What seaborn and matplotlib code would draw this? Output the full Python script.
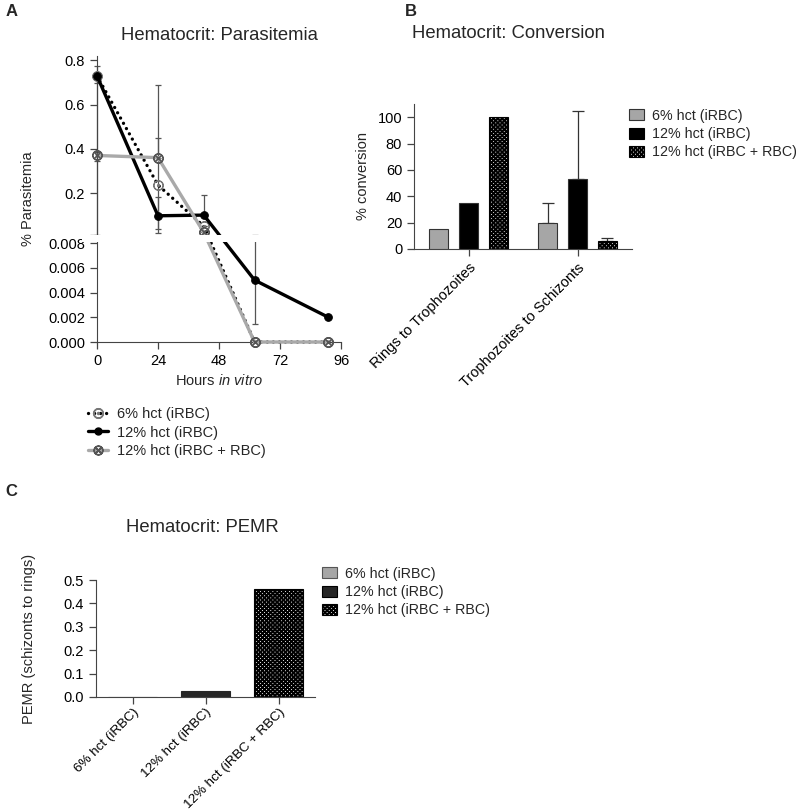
import numpy as np
import pandas as pd
import matplotlib
matplotlib.use("Agg")
import matplotlib.pyplot as plt
from matplotlib.patches import Patch, Rectangle
from matplotlib.lines import Line2D
import matplotlib.transforms as mtransforms
import seaborn as sns

sns.set_style("ticks")
plt.rcParams["font.family"] = ["Liberation Sans", "DejaVu Sans"]
plt.rcParams["mathtext.fontset"] = "custom"
plt.rcParams["mathtext.rm"] = "Liberation Sans"
plt.rcParams["mathtext.it"] = "Liberation Sans:italic"
plt.rcParams["hatch.linewidth"] = 1.35
plt.rcParams["axes.edgecolor"] = "#444444"
plt.rcParams["xtick.color"] = "#444444"
plt.rcParams["ytick.color"] = "#444444"
plt.rcParams["xtick.labelcolor"] = "black"
plt.rcParams["ytick.labelcolor"] = "black"

# ---- data ----
groups = ["6% hct (iRBC)", "12% hct (iRBC)", "12% hct (iRBC + RBC)"]

hours = [0, 24, 42, 62, 91]
para_6 = [0.73, 0.236, 0.05, 0.0, 0.0]
para_12 = [0.73, 0.097, 0.10, 0.005, 0.002]
para_12rbc = [0.37, 0.36, 0.022, 0.0, 0.0]
# error bar ends (low, high)
err_6_lo = [0.012, 0.035, 0.05, 0.0, 0.0]
err_6_hi = [0.73, 0.45, 0.05, 0.0, 0.0]
err_12_lo = [0.70, 0.02, 0.10, 0.00145, 0.002]
err_12_hi = [0.775, 0.183, 0.19, 0.0105, 0.002]
err_rbc_lo = [0.345, 0.36, 0.022, 0.0, 0.0]
err_rbc_hi = [0.385, 0.69, 0.022, 0.0, 0.0]

transitions = ["Rings to Trophozoites", "Trophozoites to Schizonts"]
conv_6 = [15, 20]
conv_12 = [35, 53]
conv_12rbc = [100, 6]
conv_err_6 = [0, 15]
conv_err_12 = [0, 52]
conv_err_12rbc = [0, 2.7]

pemr = [0.0, 0.025, 0.46]

colors = ["#a6a6a6", "#000000", "#ffffff"]
colors_c = ["#a6a6a6", "#262626", "#ffffff"]
HATCH = "xxxxxxxx"

# ---- broken y scale for panel A ----
LOW_TOP, UP_BOT = 0.008, 0.01
LOW_H, GAP_H, UP_K = 99.0, 8.0, 221.0


def fwd(y):
    y = np.asarray(y, dtype=float)
    lo = y / LOW_TOP * LOW_H
    mid = LOW_H + (y - LOW_TOP) / (UP_BOT - LOW_TOP) * GAP_H
    up = LOW_H + GAP_H + (y - UP_BOT) * UP_K
    return np.where(y <= LOW_TOP, lo, np.where(y < UP_BOT, mid, up))


def inv(t):
    t = np.asarray(t, dtype=float)
    lo = t / LOW_H * LOW_TOP
    mid = LOW_TOP + (t - LOW_H) / GAP_H * (UP_BOT - LOW_TOP)
    up = UP_BOT + (t - LOW_H - GAP_H) / UP_K
    return np.where(t <= LOW_H, lo, np.where(t < LOW_H + GAP_H, mid, up))


fig = plt.figure(figsize=(7.96, 8.11), dpi=100)
W, H = 796, 811


def box(l, r, t, b):
    return [l / W, 1 - b / H, (r - l) / W, (b - t) / H]


DOTS = (0, (0.01, 1.8))

# ---- Panel A ----
axA = fig.add_axes(box(97, 341, 56, 342))
axA.set_yscale("function", functions=(fwd, inv))

ekw = dict(fmt="none", ecolor="#555555", elinewidth=0.9, capsize=2.2, capthick=0.9, zorder=2)
for vals, lo, hi in [(para_6, err_6_lo, err_6_hi), (para_12, err_12_lo, err_12_hi),
                     (para_12rbc, err_rbc_lo, err_rbc_hi)]:
    v = np.array(vals)
    yerr = [v - np.array(lo), np.array(hi) - v]
    axA.errorbar(hours, v, yerr=yerr, clip_on=False, **ekw)

sns.lineplot(x=hours, y=para_12, ax=axA, color="black", lw=2.4, marker="o", ms=5.5,
             mfc="black", mec="black", zorder=4, clip_on=False)
sns.lineplot(x=hours, y=para_12rbc, ax=axA, color="#a9a9a9", lw=2.4, marker="$\\otimes$", ms=7,
             mfc="#555555", mec="#555555", zorder=5, clip_on=False)
sns.lineplot(x=hours, y=para_6, ax=axA, color="black", lw=2.4, ls=DOTS,
             dash_capstyle="round", marker="$\\odot$", ms=7, mfc="#777777", mec="#777777",
             zorder=3, clip_on=False)

axA.set_xlim(0, 96)
axA.set_ylim(0, 0.82)
axA.set_xticks([0, 24, 48, 72, 96])
yt = [0, 0.002, 0.004, 0.006, 0.008, 0.01, 0.2, 0.4, 0.6, 0.8]
axA.set_yticks(yt)
axA.set_yticklabels(["0.000", "0.002", "0.004", "0.006", "0.008", "", "0.2", "0.4", "0.6", "0.8"])
axA.minorticks_off()
axA.tick_params(labelsize=10.5, length=5, width=0.9)
axA.set_xlabel("Hours $\\it{in\\ vitro}$", fontsize=10.5, labelpad=4)
axA.set_ylabel("% Parasitemia", fontsize=10.5)
axA.yaxis.set_label_coords(-0.255, 0.5)
sns.despine(ax=axA)
trans = mtransforms.blended_transform_factory(axA.transAxes, axA.transData)
axA.add_patch(Rectangle((-0.06, 0.00822), 1.1, 0.00172, transform=trans, facecolor="white",
                        edgecolor="none", zorder=10, clip_on=False))

handlesA = [
    Line2D([], [], color="black", lw=2.4, ls=DOTS, dash_capstyle="round",
           marker="$\\odot$", ms=7, mfc="#777777", mec="#777777"),
    Line2D([], [], color="black", lw=2.4, marker="o", ms=5),
    Line2D([], [], color="#a9a9a9", lw=2.4, marker="$\\otimes$", ms=6.5, mfc="#555555", mec="#555555"),
]
fig.legend(handlesA, groups, loc="upper left", bbox_to_anchor=(82 / W, 1 - 401 / H),
           frameon=False, fontsize=10.5, handlelength=1.4, labelspacing=0.32, handletextpad=0.6,
           borderaxespad=0)

# ---- Panel B ----
axB = fig.add_axes(box(414, 632, 104, 249))
dfB = pd.DataFrame({
    "transition": transitions * 3,
    "group": [groups[0]] * 2 + [groups[1]] * 2 + [groups[2]] * 2,
    "value": conv_6 + conv_12 + conv_12rbc,
})
sns.barplot(data=dfB, x="transition", y="value", hue="group", hue_order=groups,
            palette=colors, width=0.825, gap=0.35, errorbar=None, edgecolor="#333333",
            linewidth=0.8, legend=False, ax=axB, zorder=3)
for bar in axB.containers[2]:
    bar.set_facecolor("white")
    bar.set_edgecolor("black")
    bar.set_hatch(HATCH)
for cont, errs in zip(axB.containers, [conv_err_6, conv_err_12, conv_err_12rbc]):
    for bar, e in zip(cont, errs):
        if e > 0:
            xc = bar.get_x() + bar.get_width() / 2
            axB.errorbar([xc], [bar.get_height()], yerr=[[0], [e]], fmt="none",
                         ecolor="#333333", elinewidth=0.9, capsize=4, capthick=0.9, zorder=2)
axB.set_xlim(-0.5, 1.5)
axB.set_ylim(0, 110)
axB.set_yticks([0, 20, 40, 60, 80, 100])
axB.set_xlabel("")
axB.set_ylabel("% conversion", fontsize=10.5)
axB.yaxis.set_label_coords(-0.202, 0.5)
axB.tick_params(labelsize=10.5, length=5, width=0.9)
plt.setp(axB.get_xticklabels(), rotation=45, ha="right", rotation_mode="anchor")
sns.despine(ax=axB)

patches = [Patch(facecolor=colors[0], edgecolor="#333333", lw=0.8),
           Patch(facecolor=colors[1], edgecolor="black", lw=0.8),
           Patch(facecolor="white", edgecolor="black", hatch=HATCH, lw=0.8)]
fig.legend(patches, groups, loc="upper left", bbox_to_anchor=(623 / W, 1 - 103 / H),
           frameon=False, fontsize=10.3, handlelength=1.1, handleheight=0.8,
           labelspacing=0.3, handletextpad=0.55, borderaxespad=0)

# ---- Panel C ----
axC = fig.add_axes(box(96, 315, 580, 697))
sns.barplot(x=groups, y=pemr, hue=groups, palette=colors_c, width=0.66, errorbar=None,
            edgecolor="#262626", linewidth=0.8, legend=False, ax=axC)
for bar in axC.containers[2]:
    bar.set_facecolor("white")
    bar.set_edgecolor("black")
    bar.set_hatch(HATCH)
axC.set_xlim(-0.5, 2.5)
axC.set_ylim(0, 0.5)
axC.set_yticks([0, 0.1, 0.2, 0.3, 0.4, 0.5])
axC.set_ylabel("PEMR (schizonts to rings)", fontsize=10.5)
axC.yaxis.set_label_coords(-0.275, 0.5)
axC.tick_params(labelsize=10.5, length=5, width=0.9)
axC.tick_params(axis="x", labelsize=9.6, pad=1.5)
plt.setp(axC.get_xticklabels(), rotation=45, ha="right", rotation_mode="anchor")
sns.despine(ax=axC)

patchesC = [Patch(facecolor=colors_c[0], edgecolor="#555555", lw=0.8),
            Patch(facecolor=colors_c[1], edgecolor="black", lw=0.8),
            Patch(facecolor="white", edgecolor="black", hatch=HATCH, lw=0.8)]
fig.legend(patchesC, groups, loc="upper left", bbox_to_anchor=(316 / W, 1 - 561 / H),
           frameon=False, fontsize=10.3, handlelength=1.1, handleheight=0.8,
           labelspacing=0.3, handletextpad=0.55, borderaxespad=0)

# ---- titles and panel letters ----
fig.text(219 / W, 1 - 36 / H, "Hematocrit: Parasitemia", ha="center", va="center", fontsize=13.3)
fig.text(508 / W, 1 - 34 / H, "Hematocrit: Conversion", ha="center", va="center", fontsize=13.3)
fig.text(202 / W, 1 - 527 / H, "Hematocrit: PEMR", ha="center", va="center", fontsize=13.3)
fig.text(12 / W, 1 - 12 / H, "A", ha="center", va="center", fontsize=12, fontweight="bold")
fig.text(411 / W, 1 - 12 / H, "B", ha="center", va="center", fontsize=12, fontweight="bold")
fig.text(11 / W, 1 - 492 / H, "C", ha="center", va="center", fontsize=12, fontweight="bold")

fig.savefig("out.png", dpi=100)
